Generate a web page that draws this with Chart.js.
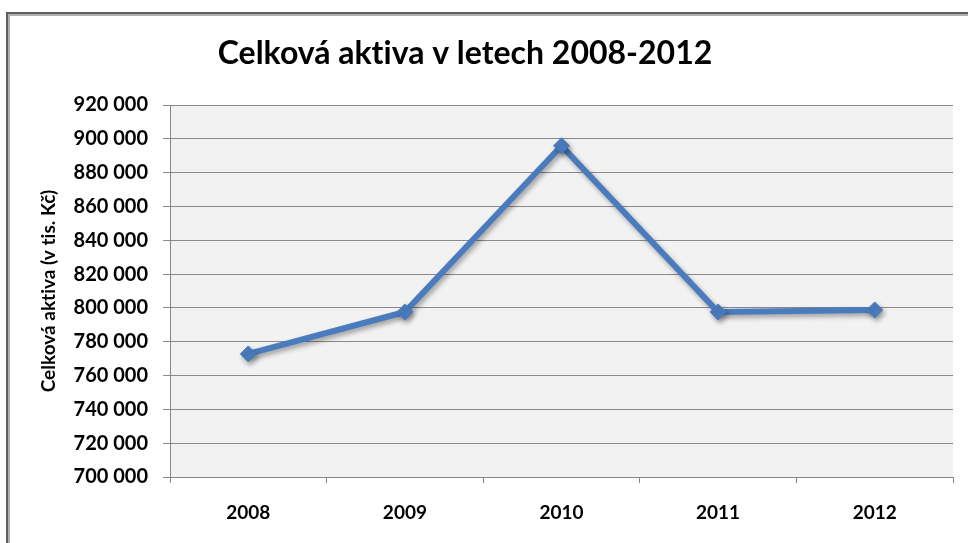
<!DOCTYPE html>
<html>
<head>
<meta charset="utf-8">
<script src="https://cdn.jsdelivr.net/npm/chart.js@4/dist/chart.umd.min.js"></script>
<style>
  html, body { margin: 0; padding: 0; background: #ffffff; }
  #wrap { width: 968px; height: 543px; position: relative; }
</style>
</head>
<body>
<div id="wrap"><canvas id="c" width="968" height="543"></canvas></div>
<script>
const categories = ['2008', '2009', '2010', '2011', '2012'];
const assets = [772800, 797600, 895900, 797600, 798800];
const chartTitle = 'Celková aktiva v letech 2008-2012';
const yAxisTitle = 'Celková aktiva (v tis. Kč)';
const yMin = 700000, yMax = 920000, yStep = 20000;

const FONT = 'Lato, "Open Sans", sans-serif';

const framePlugin = {
  id: 'frame',
  beforeDraw(chart) {
    const ctx = chart.ctx;
    try { ctx.textRendering = 'optimizeSpeed'; } catch (e) {}
    const a = chart.chartArea;
    ctx.save();
    ctx.fillStyle = '#ffffff';
    ctx.fillRect(0, 0, chart.width, chart.height);
    ctx.strokeStyle = '#b0b0b0';
    ctx.lineWidth = 2;
    ctx.beginPath();
    ctx.moveTo(9, chart.height);
    ctx.lineTo(9, 15);
    ctx.lineTo(chart.width, 15);
    ctx.stroke();
    ctx.strokeStyle = '#5e5e5e';
    ctx.lineWidth = 2;
    ctx.beginPath();
    ctx.moveTo(7, chart.height);
    ctx.lineTo(7, 13);
    ctx.lineTo(chart.width, 13);
    ctx.stroke();
    ctx.fillStyle = '#f2f2f2';
    ctx.fillRect(a.left, a.top, a.right - a.left, a.bottom - a.top);
    ctx.restore();
  }
};

const shadowPlugin = {
  id: 'lineShadow',
  beforeDatasetsDraw(chart) {
    const ctx = chart.ctx;
    ctx.save();
    ctx.shadowColor = 'rgba(0,0,0,0.35)';
    ctx.shadowBlur = 5;
    ctx.shadowOffsetX = 2;
    ctx.shadowOffsetY = 3;
  },
  afterDatasetsDraw(chart) {
    chart.ctx.restore();
  }
};

new Chart(document.getElementById('c'), {
  type: 'line',
  data: {
    labels: categories,
    datasets: [{
      label: chartTitle,
      data: assets,
      borderColor: '#4a7cbd',
      backgroundColor: '#4a7cbd',
      borderWidth: 6,
      pointStyle: 'rectRot',
      pointRadius: 8,
      pointHoverRadius: 8,
      pointBackgroundColor: '#4a7cbd',
      pointBorderColor: '#4a7cbd',
      pointBorderWidth: 1,
      tension: 0,
      fill: false
    }]
  },
  options: {
    responsive: false,
    animation: false,
    events: [],
    layout: { padding: { left: -23, right: 15, top: 0, bottom: 0 } },
    plugins: {
      legend: { display: false },
      tooltip: { enabled: false },
      title: {
        display: true,
        text: chartTitle,
        color: '#000000',
        font: { family: FONT, size: 32, weight: 'bold', lineHeight: 1.2 },
        padding: { top: 34, bottom: 32.6 }
      }
    },
    scales: {
      x: {
        offset: true,
        grid: {
          offset: true,
          display: true,
          drawOnChartArea: false,
          drawTicks: true,
          tickLength: 6,
          color: '#868686'
        },
        border: { display: true, color: '#868686', width: 1 },
        ticks: {
          color: '#000000',
          font: { family: FONT, size: 19, weight: 'bold' },
          padding: 18,
          maxRotation: 0
        },
        afterFit(scale) { scale.height = 66; }
      },
      y: {
        min: yMin,
        max: yMax,
        grid: {
          color: '#8a8a8a',
          lineWidth: 1,
          drawTicks: true,
          tickLength: 7
        },
        border: { display: true, color: '#868686', width: 1 },
        ticks: {
          stepSize: yStep,
          color: '#000000',
          padding: 15,
          font: { family: FONT, size: 20, weight: 'bold' },
          callback(v) {
            return Math.round(v).toString().replace(/\B(?=(\d{3})+(?!\d))/g, ' ');
          }
        },
        title: {
          display: true,
          text: yAxisTitle,
          color: '#000000',
          font: { family: FONT, size: 19, weight: 'bold', lineHeight: 1.2 },
          padding: { top: 60, bottom: 0 }
        },
        afterFit(scale) { scale.width = 193; }
      }
    }
  },
  plugins: [framePlugin, shadowPlugin]
});
</script>
</body>
</html>
